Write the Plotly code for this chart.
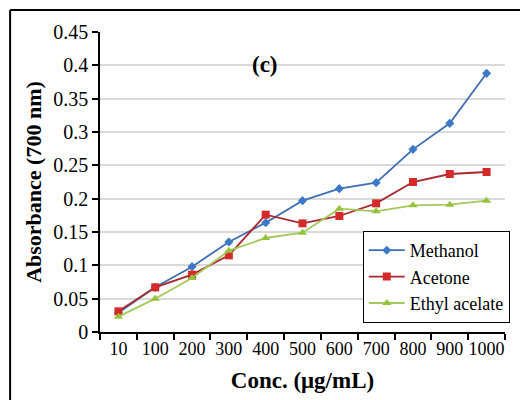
import plotly.graph_objects as go

categories = ["10", "100", "200", "300", "400", "500", "600", "700", "800", "900", "1000"]
methanol = [0.029, 0.067, 0.098, 0.135, 0.164, 0.197, 0.215, 0.224, 0.274, 0.313, 0.388]
acetone = [0.031, 0.067, 0.086, 0.115, 0.176, 0.163, 0.174, 0.193, 0.225, 0.237, 0.240]
ethyl = [0.023, 0.050, 0.081, 0.122, 0.141, 0.149, 0.185, 0.181, 0.190, 0.191, 0.197]

# plot area in pixels: x 100..510, y 32..332
L, R, T, B = 100, 510, 32, 332
def px(x):
    return (x - L) / (R - L)
def py(y):
    return (B - y) / (B - T)

FONT = "Liberation Serif, Times New Roman, serif"

fig = go.Figure()
fig.add_trace(go.Scatter(
    x=categories, y=methanol, name="Methanol", mode="lines+markers",
    line=dict(color="#3f6fb3", width=1.8),
    marker=dict(symbol="diamond", size=7, color="#3a78c8")))
fig.add_trace(go.Scatter(
    x=categories, y=acetone, name="Acetone", mode="lines+markers",
    line=dict(color="#a8282e", width=1.8),
    marker=dict(symbol="square", size=8, color="#d42a2a")))
fig.add_trace(go.Scatter(
    x=categories, y=ethyl, name="Ethyl acelate", mode="lines+markers",
    line=dict(color="#a4c85a", width=1.8),
    marker=dict(symbol="triangle-up", size=8, color="#97c23c")))

fig.update_layout(
    width=520, height=400,
    margin=dict(l=L, r=520 - R, t=T, b=400 - B),
    paper_bgcolor="white", plot_bgcolor="white",
    font=dict(family=FONT, color="black"),
    showlegend=True,
    legend=dict(
        x=px(366), y=py(231), xanchor="left", yanchor="top",
        bordercolor="black", borderwidth=1, bgcolor="white",
        font=dict(family=FONT, size=18, color="black"),
        itemwidth=36, tracegroupgap=0,
    ),
    xaxis=dict(
        type="category", range=[-0.5, len(categories) - 0.5],
        tickson="boundaries", ticks="outside", ticklen=6,
        tickcolor="black", tickwidth=1.5, tickangle=0, automargin=False,
        showline=True, linecolor="black", linewidth=1.5,
        showgrid=False, zeroline=False,
        tickfont=dict(family=FONT, size=18, color="black"),
        title=dict(text="<b>Conc. (μg/mL)</b>", font=dict(family=FONT, size=23, color="black"), standoff=14),
    ),
    yaxis=dict(
        range=[0, 0.45], dtick=0.05, tick0=0, automargin=False,
        ticks="outside", ticklen=6, tickcolor="black", tickwidth=1.5,
        showline=True, linecolor="black", linewidth=1.5,
        showgrid=True, gridcolor="#d9d9d9", gridwidth=1.5,
        zeroline=False,
        tickfont=dict(family=FONT, size=20, color="black"),
        title=dict(text="<b>Absorbance (700 nm)</b>", font=dict(family=FONT, size=22, color="black"), standoff=6),
    ),
    annotations=[dict(
        text="<b>(c)</b>", x=px(267), y=py(50), xref="paper", yref="paper",
        showarrow=False, font=dict(family=FONT, size=23, color="black"),
    )],
    shapes=[
        dict(type="line", xref="paper", yref="paper", x0=px(9), x1=px(530), y0=py(10), y1=py(10),
             line=dict(color="black", width=2)),
        dict(type="line", xref="paper", yref="paper", x0=px(9), x1=px(9), y0=py(10), y1=py(410),
             line=dict(color="black", width=2)),
    ],
)

fig.write_html("out.html")
